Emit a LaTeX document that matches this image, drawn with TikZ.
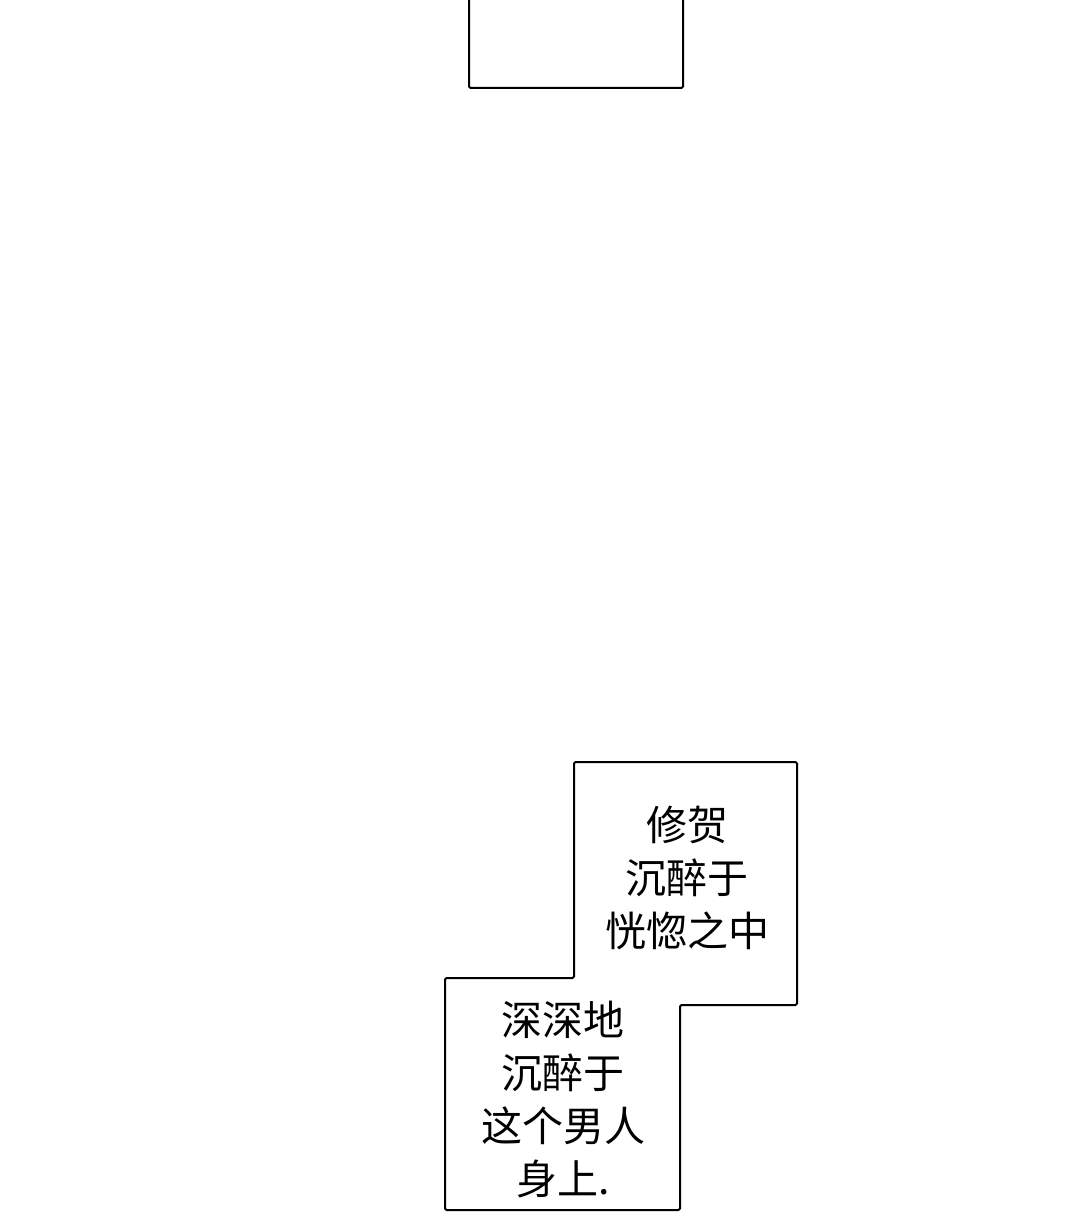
\documentclass[tikz,border=0pt]{standalone}
\usepackage{fontspec}
\newfontfamily\cjk{Noto Sans CJK SC}
\begin{document}
\begin{tikzpicture}[x=1pt,y=-1pt]
\tikzset{frame/.style={draw=black,line width=2pt,rounded corners=1.5pt},
 txt/.style={font=\cjk\fontsize{41}{53}\selectfont,align=center,inner sep=0pt}}
\useasboundingbox (0,0) rectangle (1080,1220);
\draw[frame] (469,-5) -- (469,88) -- (683,88) -- (683,-5);
\draw[frame] (574,762) -- (797,762) -- (797,1005) -- (680,1005) -- (680,1210) -- (445,1210) -- (445,978) -- (574,978) -- cycle;
\node[txt] (a) at (687,878) {修贺\\沉醉于\\恍惚之中};
\node[txt] (b) at (563,1100) {深深地\\沉醉于\\这个男人\\身上.};
\end{tikzpicture}
\end{document}
